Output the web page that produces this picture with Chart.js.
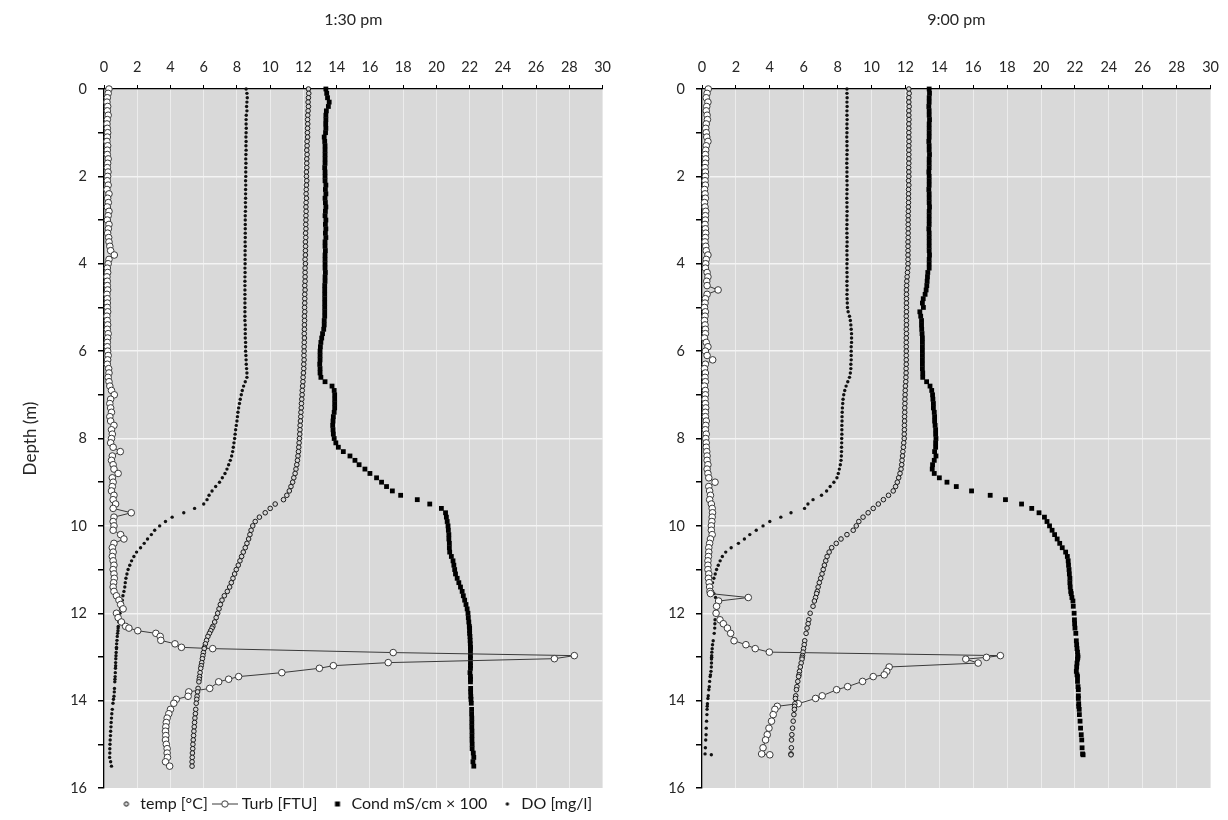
<!DOCTYPE html>
<html>
<head>
<meta charset="utf-8">
<title>Depth profiles</title>
<script src="https://cdn.jsdelivr.net/npm/chart.js@4.4.1/dist/chart.umd.min.js"></script>
<style>
  html, body { margin: 0; padding: 0; background: #fff; overflow: hidden; }
  #wrap { position: relative; width: 1228px; height: 820px; overflow: hidden; }
  .panel { position: absolute; top: 0; }
</style>
</head>
<body>
<div id="wrap">
  <div class="panel" style="left:0"><canvas id="chart130" width="620" height="822"></canvas></div>
  <div class="panel" style="left:620px"><canvas id="chart900" width="608" height="820"></canvas></div>
</div>
<script>
// ---- 1:30 pm profile ----
const depth130 = [
  0.0, 0.1, 0.2, 0.3, 0.4, 0.5, 0.6, 0.7, 0.8, 0.9,
  1.0, 1.1, 1.2, 1.3, 1.4, 1.5, 1.6, 1.7, 1.8, 1.9,
  2.0, 2.1, 2.2, 2.3, 2.4, 2.5, 2.6, 2.7, 2.8, 2.9,
  3.0, 3.1, 3.2, 3.3, 3.4, 3.5, 3.6, 3.7, 3.8, 3.9,
  4.0, 4.1, 4.2, 4.3, 4.4, 4.5, 4.6, 4.7, 4.8, 4.9,
  5.0, 5.1, 5.2, 5.3, 5.4, 5.5, 5.6, 5.7, 5.8, 5.9,
  6.0, 6.1, 6.2, 6.3, 6.4, 6.5, 6.6, 6.7, 6.8, 6.9,
  7.0, 7.1, 7.2, 7.3, 7.4, 7.5, 7.6, 7.7, 7.8, 7.9,
  8.0, 8.1, 8.2, 8.3, 8.4, 8.5, 8.6, 8.7, 8.8, 8.9,
  9.0, 9.1, 9.2, 9.3, 9.4, 9.5, 9.6, 9.7, 9.8, 9.9,
  10.0, 10.1, 10.2, 10.3, 10.4, 10.5, 10.6, 10.7, 10.8, 10.9,
  11.0, 11.1, 11.2, 11.3, 11.4, 11.5, 11.6, 11.7, 11.8, 11.9,
  12.0, 12.1, 12.2,
  12.3, 12.34, 12.4, 12.46, 12.53, 12.62, 12.7, 12.78, 12.81, 12.9,
  12.97, 13.04, 13.13, 13.2, 13.26, 13.36, 13.45, 13.51, 13.57, 13.72,
  13.8, 13.9, 13.97, 14.06, 14.2, 14.3, 14.4, 14.5, 14.6, 14.7,
  14.8, 14.9, 15.0, 15.1, 15.2, 15.3, 15.4, 15.5
];
const temp130 = [
  12.3, 12.32, 12.3, 12.28, 12.3, 12.28, 12.26, 12.25, 12.26, 12.25,
  12.24, 12.25, 12.22, 12.22, 12.2, 12.22, 12.2, 12.2, 12.2, 12.18,
  12.18, 12.2, 12.18, 12.17, 12.16, 12.18, 12.16, 12.15, 12.16, 12.15,
  12.15, 12.14, 12.15, 12.13, 12.14, 12.12, 12.13, 12.12, 12.12, 12.1,
  12.12, 12.1, 12.1, 12.1, 12.1, 12.08, 12.1, 12.08, 12.08, 12.08,
  12.07, 12.08, 12.06, 12.07, 12.06, 12.06, 12.05, 12.06, 12.05, 12.04,
  12.04, 12.03, 12.04, 12.02, 12.02, 12.0, 11.98, 11.97, 11.95, 11.93,
  11.92, 11.9, 11.88, 11.87, 11.85, 11.84, 11.82, 11.8, 11.79, 11.78,
  11.76, 11.74, 11.72, 11.7, 11.67, 11.64, 11.6, 11.55, 11.5, 11.42,
  11.35, 11.25, 11.15, 11.0, 10.8, 10.3, 10.0, 9.7, 9.35, 9.1,
  8.95, 8.85, 8.78, 8.7, 8.6, 8.5, 8.38, 8.28, 8.18, 8.08,
  7.96, 7.86, 7.76, 7.66, 7.56, 7.42, 7.24, 7.1, 7.0, 6.92,
  6.84, 6.75, 6.66,
  6.55, 6.5, 6.42, 6.34, 6.25, 6.17, 6.1, 6.05, 6.03, 5.98,
  5.95, 5.92, 5.88, 5.85, 5.82, 5.78, 5.75, 5.73, 5.71, 5.66,
  5.63, 5.6, 5.58, 5.55, 5.52, 5.5, 5.47, 5.45, 5.43, 5.41,
  5.39, 5.37, 5.35, 5.34, 5.32, 5.31, 5.3, 5.3
];
const turb130 = [
  0.3, 0.25, 0.2, 0.18, 0.22, 0.2, 0.25, 0.2, 0.18, 0.2,
  0.22, 0.2, 0.18, 0.22, 0.2, 0.2, 0.25, 0.22, 0.2, 0.24,
  0.22, 0.2, 0.25, 0.18, 0.3, 0.22, 0.26, 0.2, 0.3, 0.25,
  0.2, 0.3, 0.26, 0.22, 0.28, 0.3, 0.35, 0.4, 0.62, 0.3,
  0.25, 0.2, 0.22, 0.18, 0.2, 0.2, 0.22, 0.18, 0.2, 0.2,
  0.2, 0.22, 0.18, 0.2, 0.22, 0.2, 0.25, 0.22, 0.2, 0.2,
  0.22, 0.25, 0.22, 0.2, 0.28, 0.3, 0.25, 0.3, 0.35, 0.45,
  0.62, 0.4, 0.35, 0.4, 0.45, 0.35, 0.4, 0.6, 0.45, 0.5,
  0.45, 0.4, 0.55, 0.98, 0.5, 0.45, 0.55, 0.6, 0.85, 0.5,
  0.55, 0.5, 0.45, 0.6, 0.55, 0.7, 0.55, 1.64, 0.6, 0.55,
  0.6, 0.55, 1.0, 1.2, 0.6, 0.5, 0.55, 0.5, 0.55, 0.6,
  0.55, 0.6, 0.62, 0.58, 0.55, 0.6, 0.75, 0.9, 1.0, 1.15,
  0.75, 0.85, 1.05,
  1.3, 1.5, 2.03, 3.12, 3.38, 3.42, 4.27, 4.66, 6.54, 17.4,
  28.3, 27.1, 17.1, 13.8, 12.96, 10.7, 8.1, 7.5, 6.9, 6.36,
  5.1, 5.06, 4.35, 4.2, 4.0, 3.9, 3.8, 3.75, 3.72, 3.7,
  3.72, 3.7, 3.75, 3.8, 3.8, 3.82, 3.7, 3.95
];
const cond130 = [
  13.35, 13.4, 13.45, 13.55, 13.5, 13.38, 13.35, 13.35, 13.34, 13.35,
  13.33, 13.25, 13.28, 13.3, 13.3, 13.3, 13.3, 13.3, 13.28, 13.3,
  13.3, 13.3, 13.35, 13.32, 13.35, 13.3, 13.32, 13.35, 13.32, 13.3,
  13.35, 13.32, 13.35, 13.32, 13.35, 13.3, 13.3, 13.32, 13.3, 13.3,
  13.3, 13.3, 13.32, 13.3, 13.3, 13.28, 13.28, 13.28, 13.28, 13.28,
  13.28, 13.28, 13.28, 13.25, 13.25, 13.22, 13.15, 13.1, 13.05, 13.02,
  13.0, 13.0, 13.0, 12.98, 13.0, 13.0, 13.05, 13.3, 13.72, 13.85,
  13.88, 13.88, 13.88, 13.88, 13.85, 13.8, 13.78, 13.76, 13.78, 13.8,
  13.85, 13.95, 14.1, 14.4, 14.8, 15.1, 15.35, 15.7, 16.0, 16.4,
  16.7, 17.0, 17.35, 17.85, 18.85, 19.6, 20.3, 20.55, 20.6, 20.65,
  20.7, 20.72, 20.75, 20.75, 20.78, 20.78, 20.8, 20.9, 21.0, 21.05,
  21.1, 21.15, 21.25, 21.35, 21.45, 21.55, 21.62, 21.7, 21.78, 21.85,
  21.9, 21.92, 21.95,
  21.98, 22.0, 22.0, 22.0, 22.02, 22.03, 22.04, 22.05, 22.05, 22.05,
  22.05, 22.05, 22.05, 22.05, 22.05, 22.02, 22.05, 22.05, 22.05, 22.06,
  22.06, 22.07, 22.08, 22.1, 22.12, 22.12, 22.13, 22.13, 22.13, 22.14,
  22.14, 22.14, 22.15, 22.15, 22.22, 22.25, 22.2, 22.25
];
const do130 = [
  8.55, 8.6, 8.62, 8.6, 8.58, 8.6, 8.56, 8.55, 8.55, 8.56,
  8.55, 8.54, 8.55, 8.54, 8.55, 8.54, 8.53, 8.54, 8.53, 8.53,
  8.53, 8.52, 8.53, 8.52, 8.52, 8.52, 8.51, 8.52, 8.51, 8.5,
  8.5, 8.5, 8.5, 8.5, 8.5, 8.49, 8.5, 8.49, 8.49, 8.49,
  8.49, 8.48, 8.49, 8.48, 8.48, 8.48, 8.48, 8.48, 8.48, 8.48,
  8.48, 8.48, 8.48, 8.48, 8.5, 8.5, 8.5, 8.5, 8.52, 8.52,
  8.52, 8.54, 8.55, 8.56, 8.58, 8.6, 8.6, 8.5, 8.4, 8.32,
  8.26, 8.2, 8.15, 8.1, 8.06, 8.03, 8.0, 7.96, 7.92, 7.89,
  7.86, 7.82, 7.78, 7.74, 7.68, 7.6, 7.5, 7.4, 7.28, 7.12,
  6.95, 6.72, 6.5, 6.32, 6.2, 6.0, 5.45, 4.8, 4.1, 3.7,
  3.35, 3.05, 2.85, 2.62, 2.42, 2.2, 1.96, 1.8, 1.66, 1.55,
  1.45, 1.38, 1.32, 1.28, 1.25, 1.2, 1.14, 1.1, 1.05, 1.0,
  0.96, 0.92, 0.89,
  0.86, 0.85, 0.84, 0.82, 0.8, 0.78, 0.76, 0.75, 0.75, 0.73,
  0.72, 0.71, 0.7, 0.7, 0.69, 0.68, 0.67, 0.66, 0.65, 0.63,
  0.62, 0.6, 0.57, 0.54, 0.5, 0.47, 0.45, 0.43, 0.42, 0.4,
  0.39, 0.37, 0.36, 0.35, 0.35, 0.34, 0.4, 0.45
];

// ---- 9:00 pm profile ----
const depth900 = [
  0.0, 0.1, 0.2, 0.3, 0.4, 0.5, 0.6, 0.7, 0.8, 0.9,
  1.0, 1.1, 1.2, 1.3, 1.4, 1.5, 1.6, 1.7, 1.8, 1.9,
  2.0, 2.1, 2.2, 2.3, 2.4, 2.5, 2.6, 2.7, 2.8, 2.9,
  3.0, 3.1, 3.2, 3.3, 3.4, 3.5, 3.6, 3.7, 3.8, 3.9,
  4.0, 4.1, 4.2, 4.3, 4.4, 4.5, 4.6, 4.7, 4.8, 4.9,
  5.0, 5.1, 5.2, 5.3, 5.4, 5.5, 5.6, 5.7, 5.8, 5.9,
  6.0, 6.1, 6.2, 6.3, 6.4, 6.5, 6.6, 6.7, 6.8, 6.9,
  7.0, 7.1, 7.2, 7.3, 7.4, 7.5, 7.6, 7.7, 7.8, 7.9,
  8.0, 8.1, 8.2, 8.3, 8.4, 8.5, 8.6, 8.7, 8.8, 8.9,
  9.0, 9.1, 9.2, 9.3, 9.4, 9.5, 9.6, 9.7, 9.8, 9.9,
  10.0, 10.1, 10.2, 10.3, 10.4, 10.5, 10.6, 10.7, 10.8, 10.9,
  11.0, 11.1, 11.2, 11.3, 11.4,
  11.5, 11.55, 11.64, 11.72, 11.84, 12.0, 12.15, 12.24, 12.34, 12.46,
  12.63, 12.72, 12.81, 12.89, 12.97, 13.01, 13.05, 13.14, 13.23, 13.33,
  13.41, 13.45, 13.56, 13.68, 13.75, 13.89, 13.95, 14.07, 14.13, 14.2,
  14.32, 14.47, 14.63, 14.78, 14.9, 15.08, 15.22, 15.24
];
const temp900 = [
  12.2, 12.22, 12.2, 12.2, 12.22, 12.2, 12.2, 12.21, 12.2, 12.2,
  12.2, 12.2, 12.21, 12.2, 12.2, 12.2, 12.2, 12.2, 12.19, 12.2,
  12.2, 12.18, 12.2, 12.18, 12.18, 12.18, 12.18, 12.17, 12.17, 12.16,
  12.16, 12.16, 12.16, 12.16, 12.16, 12.15, 12.15, 12.15, 12.15, 12.15,
  12.15, 12.14, 12.12, 12.1, 12.08, 12.07, 12.06, 12.06, 12.06, 12.06,
  12.06, 12.06, 12.05, 12.06, 12.06, 12.05, 12.06, 12.05, 12.05, 12.05,
  12.05, 12.05, 12.05, 12.05, 12.04, 12.04, 12.03, 12.02, 12.0, 11.99,
  11.98, 11.97, 11.97, 11.96, 11.96, 11.95, 11.95, 11.94, 11.94, 11.93,
  11.93, 11.9, 11.88, 11.85, 11.83, 11.8, 11.78, 11.74, 11.68, 11.6,
  11.52, 11.42, 11.28, 11.0, 10.7, 10.4, 10.1, 9.8, 9.5, 9.25,
  9.1, 8.92, 8.55, 8.2, 7.92, 7.65, 7.5, 7.38, 7.3, 7.22,
  7.15, 7.08, 7.0, 6.92, 6.85,
  6.8, 6.76, 6.7, 6.63, 6.55, 6.38, 6.3, 6.26, 6.2, 6.14,
  6.06, 6.03, 5.99, 5.96, 5.93, 5.91, 5.9, 5.85, 5.8, 5.75,
  5.72, 5.7, 5.65, 5.6, 5.57, 5.53, 5.51, 5.48, 5.46, 5.45,
  5.42, 5.38, 5.34, 5.3, 5.28, 5.27, 5.25, 5.25
];
const turb900 = [
  0.37, 0.3, 0.25, 0.35, 0.28, 0.25, 0.3, 0.32, 0.25, 0.22,
  0.25, 0.28, 0.35, 0.25, 0.22, 0.2, 0.22, 0.2, 0.18, 0.2,
  0.2, 0.18, 0.2, 0.15, 0.18, 0.2, 0.15, 0.18, 0.22, 0.2,
  0.2, 0.18, 0.2, 0.22, 0.2, 0.18, 0.22, 0.25, 0.35, 0.25,
  0.22, 0.2, 0.3, 0.35, 0.28, 0.3, 0.95, 0.3, 0.2, 0.18,
  0.15, 0.2, 0.18, 0.15, 0.18, 0.2, 0.2, 0.15, 0.25, 0.35,
  0.2, 0.3, 0.63, 0.2, 0.15, 0.2, 0.18, 0.2, 0.15, 0.2,
  0.2, 0.18, 0.2, 0.22, 0.2, 0.2, 0.25, 0.22, 0.2, 0.25,
  0.22, 0.25, 0.25, 0.28, 0.3, 0.3, 0.35, 0.3, 0.35, 0.4,
  0.77, 0.4, 0.45, 0.5, 0.45, 0.55, 0.6, 0.62, 0.6, 0.58,
  0.55, 0.55, 0.6, 0.5, 0.45, 0.4, 0.4, 0.38, 0.35, 0.35,
  0.35, 0.4, 0.38, 0.42, 0.45,
  0.47, 0.5, 2.73, 0.98, 0.86, 0.83, 1.06, 1.26, 1.5, 1.69,
  1.89, 2.59, 3.14, 3.97, 17.6, 16.78, 15.56, 16.29, 11.04, 10.9,
  10.75, 10.1, 9.47, 8.59, 7.94, 7.09, 6.7, 5.68, 4.44, 4.3,
  4.2, 4.1, 3.95, 3.85, 3.75, 3.6, 3.52, 4.0
];
const cond900 = [
  13.4, 13.42, 13.4, 13.4, 13.38, 13.4, 13.4, 13.42, 13.4, 13.4,
  13.4, 13.4, 13.38, 13.4, 13.4, 13.42, 13.4, 13.4, 13.4, 13.38,
  13.4, 13.4, 13.4, 13.38, 13.4, 13.4, 13.4, 13.42, 13.4, 13.4,
  13.4, 13.4, 13.38, 13.4, 13.4, 13.4, 13.4, 13.4, 13.42, 13.4,
  13.4, 13.4, 13.32, 13.3, 13.28, 13.26, 13.22, 13.16, 13.05, 13.0,
  13.06, 12.85, 12.9, 12.95, 12.95, 12.96, 12.98, 13.0, 13.0, 13.0,
  13.0, 13.0, 13.0, 13.0, 13.0, 13.02, 13.02, 13.25, 13.45, 13.55,
  13.6, 13.62, 13.65, 13.65, 13.7, 13.72, 13.72, 13.75, 13.78, 13.78,
  13.8, 13.78, 13.78, 13.72, 13.8, 13.7, 13.6, 13.58, 13.7, 14.0,
  14.45, 15.0, 15.9, 17.0, 17.9, 18.85, 19.45, 19.88, 20.2, 20.35,
  20.5, 20.65, 20.8, 20.95, 21.1, 21.25, 21.45, 21.55, 21.6, 21.62,
  21.65, 21.67, 21.7, 21.7, 21.72,
  21.75, 21.78, 21.82, 21.88, 21.9, 21.95, 21.97, 21.98, 22.0, 22.05,
  22.08, 22.1, 22.12, 22.15, 22.17, 22.17, 22.15, 22.12, 22.1, 22.08,
  22.12, 22.15, 22.15, 22.18, 22.2, 22.2, 22.2, 22.22, 22.22, 22.25,
  22.26, 22.3, 22.33, 22.37, 22.4, 22.42, 22.45, 22.48
];
const do900 = [
  8.55, 8.55, 8.56, 8.55, 8.56, 8.55, 8.55, 8.56, 8.55, 8.55,
  8.55, 8.54, 8.55, 8.55, 8.56, 8.55, 8.55, 8.54, 8.55, 8.55,
  8.55, 8.55, 8.56, 8.55, 8.55, 8.54, 8.55, 8.55, 8.56, 8.55,
  8.55, 8.55, 8.54, 8.55, 8.55, 8.56, 8.55, 8.55, 8.55, 8.56,
  8.55, 8.55, 8.55, 8.56, 8.55, 8.55, 8.56, 8.55, 8.56, 8.57,
  8.58, 8.62, 8.7, 8.75, 8.78, 8.8, 8.82, 8.82, 8.82, 8.8,
  8.8, 8.8, 8.8, 8.78, 8.78, 8.75, 8.7, 8.6, 8.5, 8.42,
  8.36, 8.32, 8.3, 8.28, 8.27, 8.26, 8.26, 8.25, 8.25, 8.25,
  8.24, 8.24, 8.23, 8.23, 8.22, 8.2, 8.16, 8.1, 8.04, 7.96,
  7.78, 7.56, 7.35, 7.05, 6.55, 6.25, 6.05, 5.25, 4.65, 4.0,
  3.6, 3.2, 2.82, 2.5, 2.15, 1.72, 1.4, 1.2, 1.07, 0.96,
  0.86, 0.78, 0.7, 0.62, 0.57,
  0.62, 0.7, 0.8, 0.88, 0.86, 0.8, 0.77, 0.76, 0.75, 0.72,
  0.66, 0.62, 0.6, 0.58, 0.57, 0.57, 0.56, 0.56, 0.55, 0.53,
  0.5, 0.48, 0.45, 0.43, 0.4, 0.37, 0.35, 0.32, 0.31, 0.3,
  0.29, 0.27, 0.25, 0.24, 0.22, 0.2, 0.18, 0.55
];

const seriesNames = ['temp [°C]', 'Turb [FTU]', 'Cond mS/cm × 100', 'DO [mg/l]'];
const xTicks = { min: 0, max: 30, step: 2 };
const yTicks = { min: 0, max: 16, step: 1 };

const FONT = 'Lato, "Open Sans", sans-serif';
const TEXT = '#262626';
Chart.defaults.font.family = FONT;
Chart.defaults.color = TEXT;

function pts(depth, values) {
  return depth.map((d, i) => ({ x: values[i], y: d }));
}

// small canvases used as legend symbols
function icon(w, draw) {
  const c = document.createElement('canvas');
  c.width = w; c.height = 12;
  draw(c.getContext('2d'));
  return c;
}
const legendIcons = [
  icon(18, g => { g.beginPath(); g.arc(12, 6, 2.2, 0, Math.PI * 2); g.fillStyle = '#d6d6d6'; g.fill(); g.lineWidth = 1; g.strokeStyle = '#1a1a1a'; g.stroke(); }),
  icon(26, g => { g.beginPath(); g.moveTo(0, 6); g.lineTo(26, 6); g.lineWidth = 1; g.strokeStyle = '#3a3a3a'; g.stroke();
                  g.beginPath(); g.arc(13, 6, 3.2, 0, Math.PI * 2); g.fillStyle = '#fff'; g.fill(); g.stroke(); }),
  icon(18, g => { g.fillStyle = '#000'; g.fillRect(9.5, 3.5, 5, 5); }),
  icon(18, g => { g.beginPath(); g.arc(12, 6, 1.7, 0, Math.PI * 2); g.fillStyle = '#111'; g.fill(); })
];

const plotBg = {
  id: 'plotBg',
  beforeDraw(chart) {
    const { ctx, chartArea: a } = chart;
    ctx.save();
    ctx.fillStyle = '#d9d9d9';
    ctx.fillRect(a.left, a.top, a.right - a.left, a.bottom - a.top);
    ctx.restore();
  }
};

function buildChart(id, title, depth, temp, turb, cond, dox, opt) {
  const datasets = [
    { label: seriesNames[0], data: pts(depth, temp), showLine: false, clip: false,
      pointStyle: 'circle', pointRadius: 2.3, pointBackgroundColor: '#d6d6d6',
      pointBorderColor: '#1a1a1a', pointBorderWidth: 1 },
    { label: seriesNames[1], data: pts(depth, turb), showLine: true, clip: false,
      borderColor: '#3a3a3a', borderWidth: 1, tension: 0,
      pointStyle: 'circle', pointRadius: 3.3, pointBackgroundColor: '#fff',
      pointBorderColor: '#3a3a3a', pointBorderWidth: 1 },
    { label: seriesNames[2], data: pts(depth, cond), showLine: false, clip: false,
      pointStyle: 'rect', pointRadius: 3.4, pointBackgroundColor: '#000',
      pointBorderColor: '#000', pointBorderWidth: 0 },
    { label: seriesNames[3], data: pts(depth, dox), showLine: false, clip: false,
      pointStyle: 'circle', pointRadius: 1.7, pointBackgroundColor: '#111',
      pointBorderWidth: 0 }
  ];

  return new Chart(document.getElementById(id), {
    type: 'scatter',
    data: { datasets },
    plugins: [plotBg],
    options: {
      responsive: false,
      animation: false,
      devicePixelRatio: 1,
      events: [],
      layout: { padding: opt.padding },
      plugins: {
        tooltip: { enabled: false },
        title: {
          display: true, text: title, fullSize: false, color: '#262626',
          font: { size: 16, weight: 'normal', lineHeight: 1.25 },
          padding: { top: 10, bottom: 0 }
        },
        legend: {
          display: opt.legend, position: 'bottom', fullSize: false,
          labels: {
            usePointStyle: true, pointStyleWidth: 18, padding: 8,
            color: '#1a1a1a', font: { size: 16 },
            generateLabels: chart => Chart.defaults.plugins.legend.labels.generateLabels(chart)
              .map((item, i) => Object.assign(item, { pointStyle: legendIcons[i] }))
          }
        }
      },
      scales: {
        x: {
          type: 'linear', position: 'top',
          min: xTicks.min, max: xTicks.max,
          ticks: { stepSize: xTicks.step, autoSkip: false, maxRotation: 0, padding: 9,
                   color: TEXT, font: { size: 14.5 } },
          grid: {
            color: c => (c.tick && (c.tick.value === xTicks.min || c.tick.value === xTicks.max))
              ? 'rgba(0,0,0,0)' : 'rgba(255,255,255,0.5)',
            lineWidth: 1, tickColor: '#000', tickLength: 4
          },
          border: { color: '#000', width: 1.3 },
          afterFit: s => { s.height = 59; }
        },
        y: {
          type: 'linear', reverse: true,
          min: yTicks.min, max: yTicks.max,
          ticks: { stepSize: yTicks.step, autoSkip: false, padding: 11,
                   color: TEXT, font: { size: 14.5 },
                   callback: v => (v % 2 === 0 ? v : '') },
          grid: {
            color: c => (c.tick && c.tick.value % 2 === 0 && c.tick.value > yTicks.min && c.tick.value < yTicks.max)
              ? '#f4f4f4' : 'rgba(0,0,0,0)',
            lineWidth: 1.5, tickColor: '#000', tickLength: 6
          },
          border: { color: '#000', width: 1.3 },
          title: { display: opt.yTitle, text: 'Depth (m)', color: '#262626',
                   font: { size: 17 }, padding: { top: 20, bottom: 0 } },
          afterFit: s => { s.width = opt.yWidth; }
        }
      }
    }
  });
}

buildChart('chart130', '1:30 pm', depth130, temp130, turb130, cond130, do130,
  { legend: true, yTitle: true, yWidth: 104, padding: { left: 0, right: 10, top: 0, bottom: 0 } });
buildChart('chart900', '9:00 pm', depth900, temp900, turb900, cond900, do900,
  { legend: false, yTitle: false, yWidth: 82, padding: { left: 0, right: 17, top: 0, bottom: 32 } });
</script>
</body>
</html>
